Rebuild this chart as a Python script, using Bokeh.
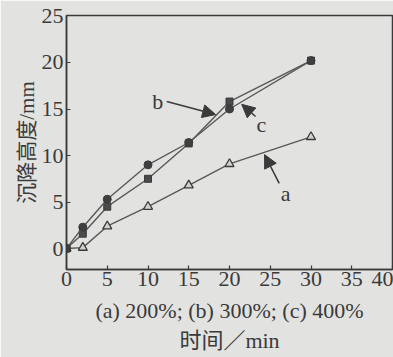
from bokeh.plotting import figure
from bokeh.models import Range1d, Label, Arrow, NormalHead, FixedTicker
from bokeh.embed import file_html
from bokeh.resources import INLINE

# ---- data ----
time_min = [0, 2, 5, 10, 15, 20, 30]
series_a = [0, 0.1, 2.4, 4.5, 6.8, 9.1, 12.0]    # (a) 200%
series_b = [0, 1.6, 4.5, 7.5, 11.3, 15.8, 20.2]  # (b) 300%
series_c = [0, 2.3, 5.3, 9.0, 11.4, 15.0, 20.2]  # (c) 400%
x_ticks = [0, 5, 10, 15, 20, 25, 30, 35, 40]
y_ticks = [0, 5, 10, 15, 20, 25]
x_label = "(a) 200%; (b) 300%; (c) 400%"
x_title = "时间／min"
y_label = "沉降高度/mm"

BG = "#e2e2e0"
INK = "#3a3a3a"
LINE = "#585858"
SERIF = "Liberation Serif, Times New Roman, serif"
MIXED = "Liberation Serif, Noto Sans CJK SC, serif"

p = figure(width=393, height=357, output_backend="svg", toolbar_location=None,
           x_range=Range1d(0, 40), y_range=Range1d(-2.25, 25.05),
           min_border_left=66, min_border_right=1, min_border_top=15,
           min_border_bottom=88)
p.background_fill_color = BG
p.border_fill_color = BG
p.outline_line_color = INK
p.outline_line_width = 1.5
p.grid.visible = False

for ax in (p.xaxis[0], p.yaxis[0]):
    ax.axis_line_color = INK
    ax.axis_line_width = 1.5
    ax.major_tick_line_color = INK
    ax.major_tick_line_width = 1.2
    ax.major_tick_in = 4
    ax.major_tick_out = 0
    ax.minor_tick_line_color = None
    ax.major_label_text_font = SERIF
    ax.major_label_text_font_size = "22px"
    ax.major_label_text_color = INK
    ax.axis_label_text_font = MIXED
    ax.axis_label_text_font_size = "22px"
    ax.axis_label_text_font_style = "normal"
    ax.axis_label_text_color = INK

p.xaxis.ticker = FixedTicker(ticks=x_ticks)
p.yaxis.ticker = FixedTicker(ticks=y_ticks)
p.xaxis.major_label_standoff = 2
p.yaxis.major_label_standoff = 3
p.xaxis.axis_label = x_label + "\n" + x_title
p.xaxis.axis_label_standoff = 9
p.xaxis.axis_label_text_line_height = 1.2
p.yaxis.axis_label = y_label
p.yaxis.axis_label_standoff = 0
p.yaxis.axis_label_text_font_size = "21px"

# series
p.line(time_min, series_a, line_color=LINE, line_width=1.4)
p.scatter(time_min, series_a, marker="triangle", size=9, fill_color="#d0d0ce",
          line_color=INK, line_width=1.3)
p.line(time_min, series_b, line_color=LINE, line_width=1.4)
p.scatter(time_min, series_b, marker="square", size=7, fill_color="#4a4a4a",
          line_color=INK)
p.line(time_min, series_c, line_color=LINE, line_width=1.4)
p.scatter(time_min, series_c, marker="circle", size=8, fill_color="#3f3f3f",
          line_color=INK)

# annotations
def arrow(x0, y0, x1, y1):
    p.add_layout(Arrow(end=NormalHead(size=13, fill_color=INK, line_color=INK, line_width=1),
                       x_start=x0, y_start=y0, x_end=x1, y_end=y1,
                       line_color=INK, line_width=1.5))

arrow(12.3, 15.8, 18.3, 14.4)
arrow(23.2, 14.2, 21.5, 15.5)
arrow(26.1, 7.0, 24.3, 10.1)

for txt, x, y in (("b", 11.2, 15.8), ("c", 23.9, 13.3), ("a", 26.9, 5.9)):
    p.add_layout(Label(x=x, y=y, text=txt, text_align="center", text_baseline="middle",
                       text_font=SERIF, text_font_size="22px", text_color=INK))

open("out.html", "w").write(file_html(p, INLINE))
